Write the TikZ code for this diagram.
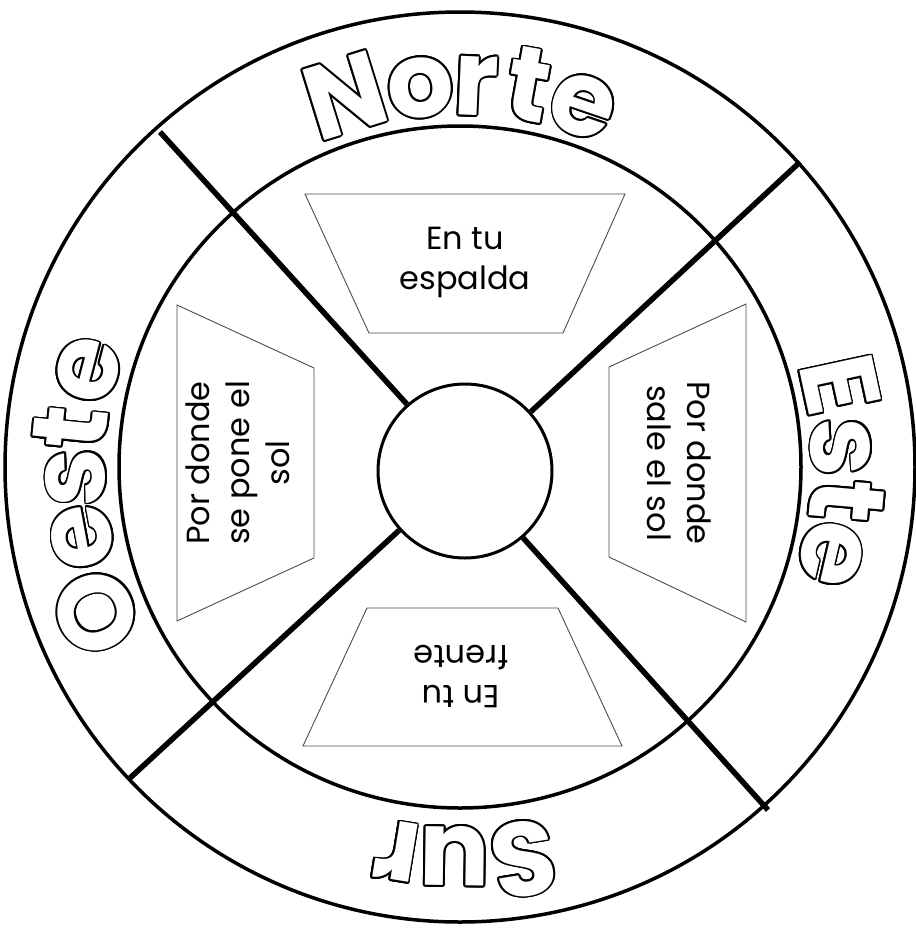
\documentclass[tikz,border=0pt]{standalone}
\usepackage{fontspec}
\setmainfont{Poppins}
\usepackage{contour}
\contourlength{1.8pt}
\usetikzlibrary{calc}
\newcommand{\outl}[1]{\contour{black}{\textcolor{white}{#1}}}
\tikzset{
  ring/.style={line width=3.5pt, draw=black},
  spoke/.style={line width=5.5pt, draw=black},
  hubstyle/.style={circle, draw=black, line width=3pt, minimum size=174pt, inner sep=0pt, fill=white},
  trap/.style={draw=black!70, line width=0.9pt},
  bigletter/.style={anchor=base, inner sep=0pt, font=\fontsize{105}{105}\selectfont\bfseries},
  smalltext/.style={align=center, inner sep=0pt, font=\fontsize{32}{40}\selectfont}
}
\begin{document}
\begin{tikzpicture}[x=1pt,y=1pt]
\useasboundingbox (0,0) rectangle (916,-930);
\fill[white] (0,0) rectangle (916,-930);
\coordinate (C) at (460,-467);
% rings
\draw[ring] (C) circle (455);
\draw[ring] (C) circle (341);
% hub
\node[hubstyle] (hub) at (465,-471) {};
% spoke ends
\coordinate (ul) at (160,-132);
\coordinate (ur) at (800,-162);
\coordinate (ll) at (130,-778);
\coordinate (lr) at (768,-810);
\draw[spoke] (hub.131.7) -- (ul);
\draw[spoke] (hub.42.6) -- (ur);
\draw[spoke] (hub.222.5) -- (ll);
\draw[spoke] (hub.311.7) -- (lr);
% trapezoids
\draw[trap] (305,-194) -- (625,-194) -- (563,-333) -- (369,-333) -- cycle;
\draw[trap] (367,-608) -- (558,-608) -- (622,-746) -- (303,-746) -- cycle;
\draw[trap] (177,-305) -- (314,-368) -- (314,-558) -- (177,-621) -- cycle;
\draw[trap] (609,-367) -- (746,-304) -- (746,-622) -- (609,-557) -- cycle;
% texts
\node[smalltext] (tnorth) at (465,-262) {En tu\\espalda};
\node[smalltext, rotate=180] (tsouth) at (461,-677) {En tu\\frente};
\node[smalltext, rotate=90] (twest) at (238,-463) {Por donde\\se pone el\\sol};
\node[smalltext, rotate=-90] (teast) at (679,-463) {Por donde\\sale el sol};
% big words
\foreach \a/\l [count=\i, evaluate=\a as \r using \a-90] in {107.2/N, 95.9/o, 87.6/r, 79.8/t, 71.2/e}
  \node[bigletter, rotate=\r] (norte\i) at ($(C)+(\a:352)$) {\outl{\l}};
\foreach \a/\l [count=\i, evaluate=\a as \r using \a-90] in {12.2/E, 3.0/s, -5.0/t, -13.2/e}
  \node[bigletter, rotate=\r] (este\i) at ($(C)+(\a:352)$) {\outl{\l}};
\foreach \a/\l [count=\i, evaluate=\a as \r using \a-90] in {201.8/O, 190.5/e, 181.6/s, 174.3/t, 165.4/e}
  \node[bigletter, rotate=\r] (oeste\i) at ($(C)+(\a:355)$) {\outl{\l}};
\foreach \a/\l [count=\i, evaluate=\a as \r using \a-90] in {279.2/S, 269.2/u, 260.7/r}
  \node[bigletter, rotate=\r] (sur\i) at ($(C)+(\a:360)$) {\outl{\l}};
\end{tikzpicture}
\end{document}
